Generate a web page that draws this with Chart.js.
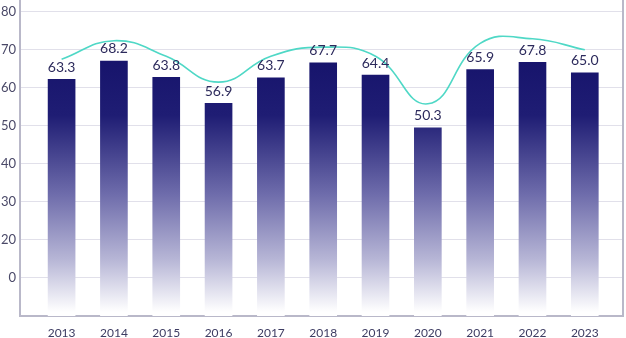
<!DOCTYPE html>
<html>
<head>
<meta charset="utf-8">
<script src="https://cdn.jsdelivr.net/npm/chart.js@4"></script>
<style>
  html, body { margin: 0; padding: 0; background: #fff; }
  #wrap { width: 626px; height: 338px; }
</style>
</head>
<body>
<div id="wrap"><canvas id="chart"></canvas></div>
<script>
const years = [2013, 2014, 2015, 2016, 2017, 2018, 2019, 2020, 2021, 2022, 2023];
const barValues = [63.3, 68.2, 63.8, 56.9, 63.7, 67.7, 64.4, 50.3, 65.9, 67.8, 65.0];
const lineValues = [67.5, 72.4, 68.3, 61.5, 68.3, 70.7, 68.3, 55.8, 71.7, 72.9, 70.0];
const yTicks = [0, 10, 20, 30, 40, 50, 60, 70, 80];
const yTickLabels = ['', '0', '20', '30', '40', '50', '60', '70', '80'];

const frameColor = '#b9b8c9';
const textColor = '#3d3c62';

function barGradient(context) {
    const area = context.chart.chartArea;
    if (!area) return '#1c1a6c';
    const g = context.chart.ctx.createLinearGradient(0, area.top + 50, 0, area.bottom - 4);
    g.addColorStop(0, '#15126a');
    g.addColorStop(0.25, '#1f1d74');
    g.addColorStop(0.55, '#6e6cab');
    g.addColorStop(0.8, '#b7b6d6');
    g.addColorStop(1, '#ffffff');
    return g;
}

const valueLabels = {
    id: 'valueLabels',
    afterDatasetsDraw(chart) {
        const meta = chart.getDatasetMeta(0);
        const ctx = chart.ctx;
        ctx.save();
        ctx.font = '14px Lato';
        ctx.fillStyle = '#2c2a5c';
        ctx.textAlign = 'center';
        ctx.textBaseline = 'bottom';
        meta.data.forEach(function(bar, i) {
            ctx.fillText(barValues[i].toFixed(1), bar.x, bar.y - 5);
        });
        ctx.restore();
    }
};

const ctx = document.getElementById('chart').getContext('2d');
new Chart(ctx, {
    data: {
        datasets: [{
            type: 'bar',
            data: years.map((y, i) => ({ x: y, y: barValues[i] })),
            backgroundColor: barGradient,
            barThickness: 27,
            xAxisID: 'x',
            yAxisID: 'yBar',
            order: 1
        }, {
            type: 'line',
            data: years.map((y, i) => ({ x: y, y: lineValues[i] })),
            borderColor: '#4fd8c6',
            borderWidth: 1.6,
            pointRadius: 0,
            tension: 0.45,
            fill: false,
            xAxisID: 'x',
            yAxisID: 'y',
            order: 0
        }]
    },
    options: {
        responsive: true,
        maintainAspectRatio: false,
        animation: false,
        layout: { padding: 0 },
        plugins: { legend: { display: false }, tooltip: { enabled: false } },
        scales: {
            x: {
                type: 'linear',
                offset: false,
                min: 2012.205,
                max: 2023.73,
                grid: { display: false },
                border: { color: frameColor, width: 2 },
                afterBuildTicks: s => { s.ticks = years.map(v => ({ value: v })); },
                afterFit: s => { s.height = 22; s.paddingLeft = 0; s.paddingRight = 0; },
                ticks: {
                    color: textColor,
                    font: { family: 'Lato', size: 12 },
                    padding: 2,
                    maxRotation: 0,
                    autoSkip: false,
                    callback: v => String(v)
                }
            },
            y: {
                position: 'left',
                min: 0,
                max: 83.1,
                grid: { color: '#e1e0ea', drawTicks: false },
                border: { color: frameColor, width: 2 },
                afterBuildTicks: s => { s.ticks = yTicks.map(v => ({ value: v })); },
                afterFit: s => { s.width = 20; s.paddingTop = 0; s.paddingBottom = 0; },
                ticks: {
                    color: '#4a4968',
                    font: { family: 'Lato', size: 13 },
                    padding: 4,
                    callback: (v, i) => yTickLabels[i]
                }
            },
            yBar: {
                display: false,
                min: 0,
                max: 84.5
            },
            yRight: {
                position: 'right',
                min: 0,
                max: 1,
                grid: { display: false },
                border: { color: frameColor, width: 2 },
                ticks: { display: false },
                afterFit: s => { s.width = 3; }
            }
        }
    },
    plugins: [valueLabels]
});
</script>
</body>
</html>
